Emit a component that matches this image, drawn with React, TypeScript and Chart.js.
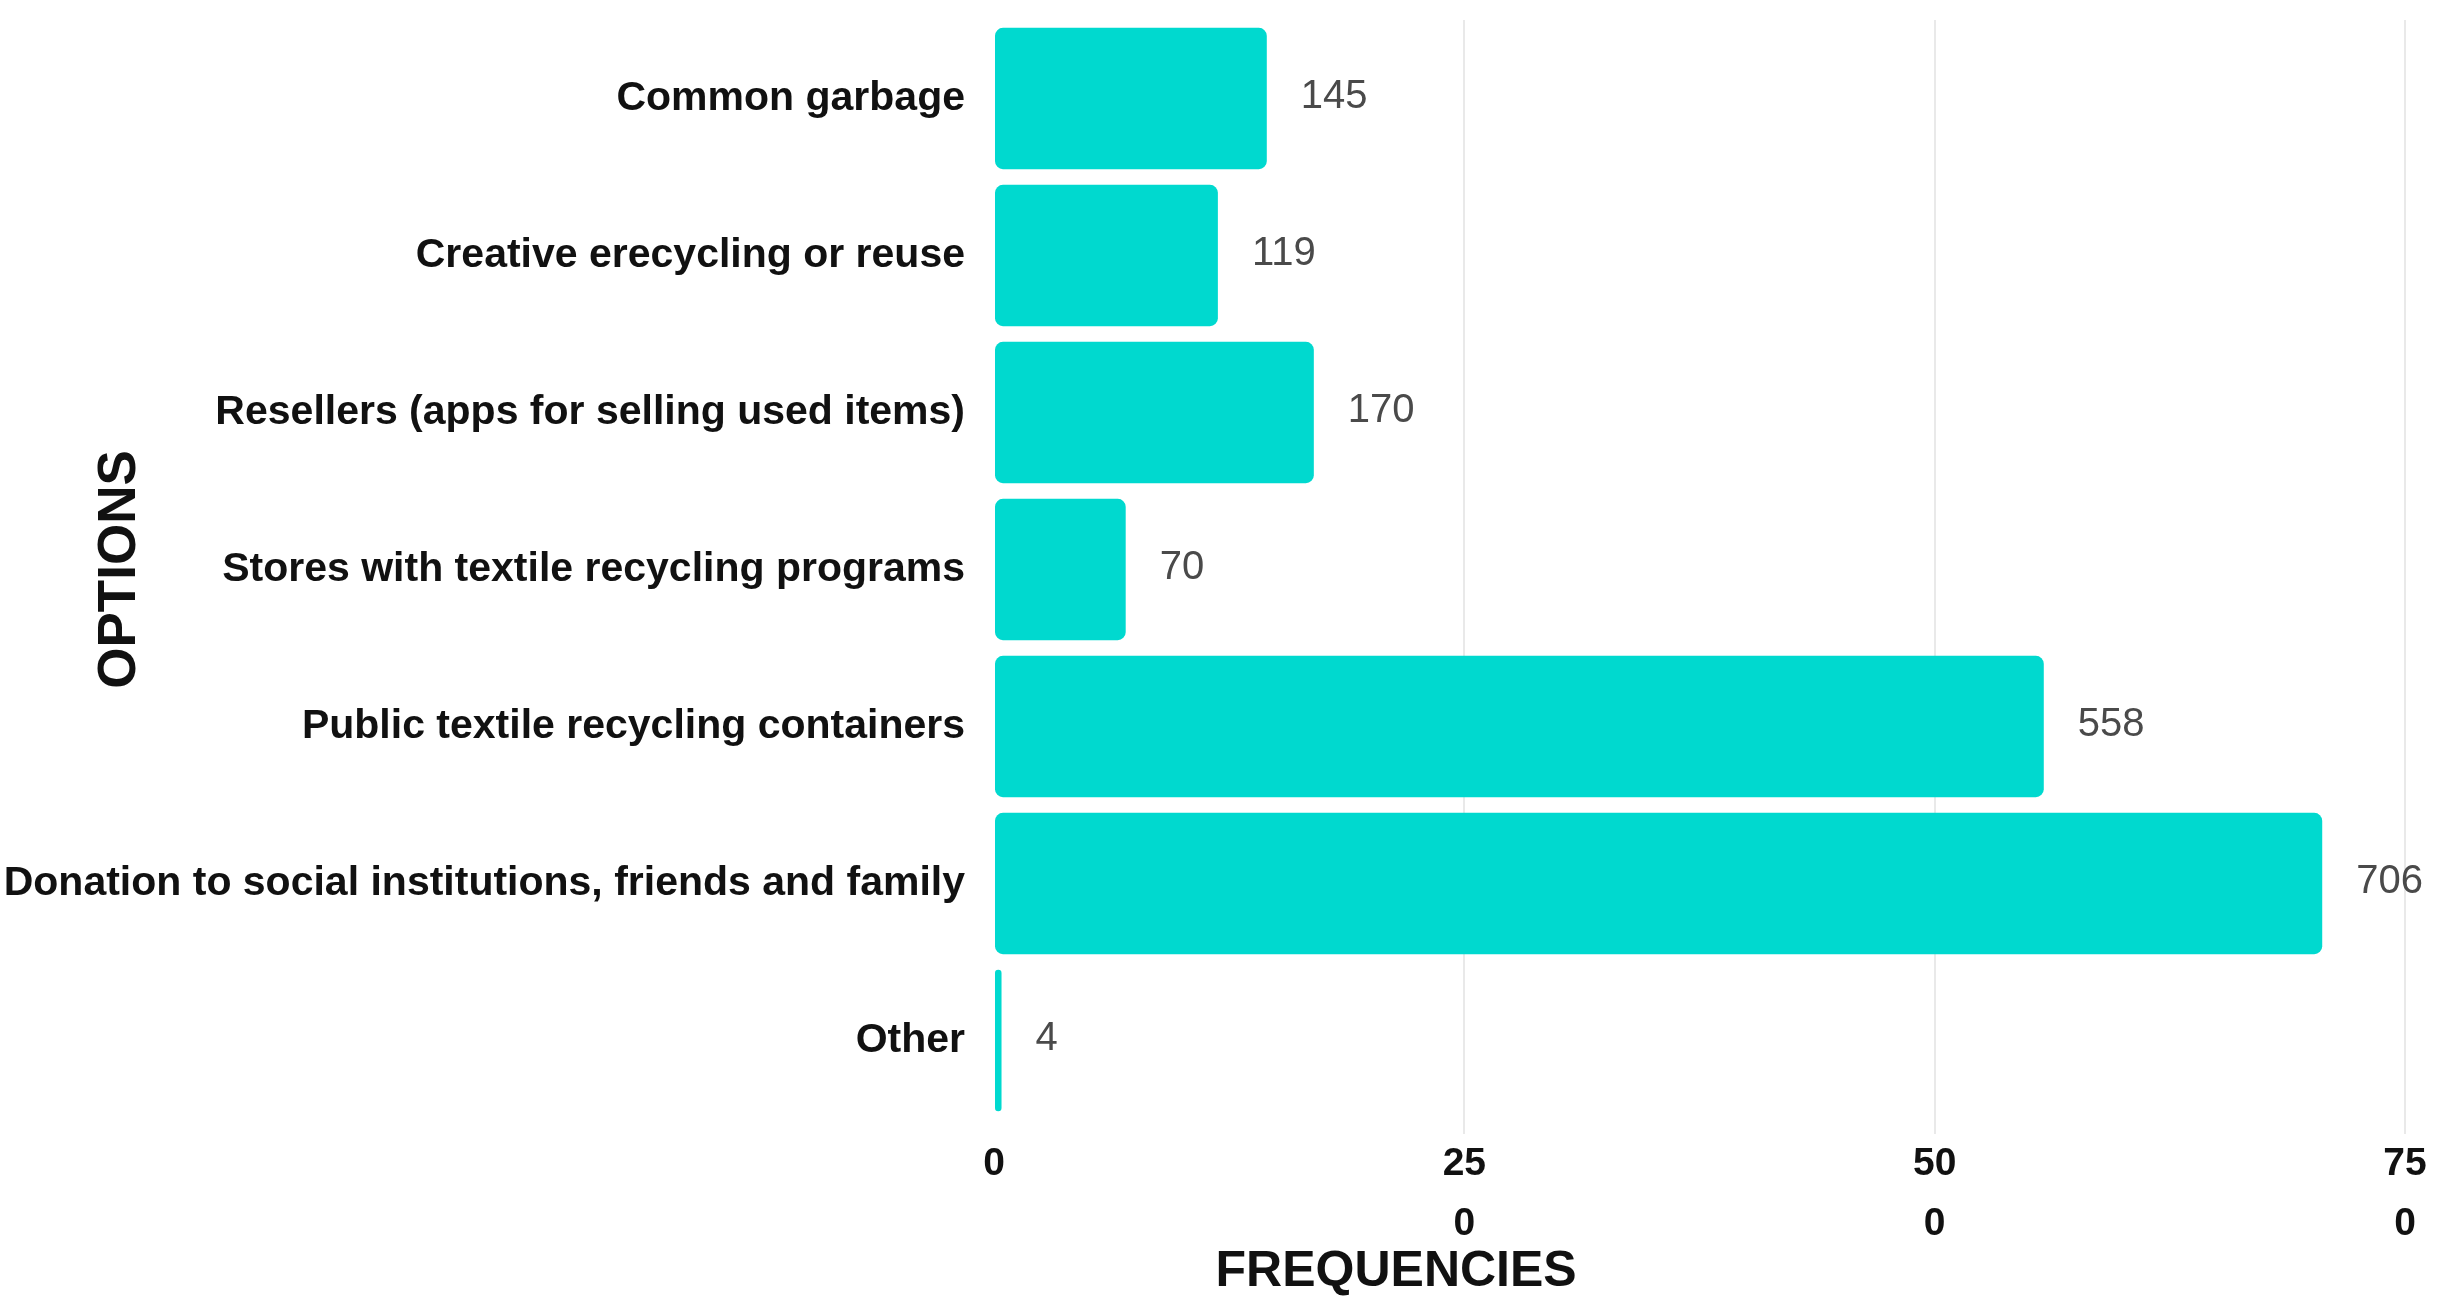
import React, { useEffect, useRef } from 'react';
import { Chart, registerables } from 'chart.js';

Chart.register(...registerables);

const categories = [
  'Common garbage',
  'Creative erecycling or reuse',
  'Resellers (apps for selling used items)',
  'Stores with textile recycling programs',
  'Public textile recycling containers',
  'Donation to social institutions, friends and family',
  'Other',
];
const frequencies = [145, 119, 170, 70, 558, 706, 4];
const xTickValues = [0, 250, 500, 750];
const xTickLabels: (string | string[])[] = ['0', ['25', '0'], ['50', '0'], ['75', '0']];
const xTitle = 'FREQUENCIES';
const yTitle = 'OPTIONS';

const FONT = "'Liberation Sans', Arial, sans-serif";
const BAR_COLOR = '#00D9CF';

const valueLabels = {
  id: 'valueLabels',
  afterDatasetsDraw(chart: any) {
    const { ctx } = chart;
    const meta = chart.getDatasetMeta(0);
    ctx.save();
    ctx.font = `40px ${FONT}`;
    ctx.fillStyle = '#4a4a4a';
    ctx.textAlign = 'left';
    ctx.textBaseline = 'middle';
    meta.data.forEach((bar: any, i: number) => {
      ctx.fillText(String(frequencies[i]), bar.x + 34, bar.y - 2);
    });
    ctx.restore();
  },
};

const xAxisTitle = {
  id: 'xAxisTitle',
  afterDraw(chart: any) {
    const { ctx, chartArea } = chart;
    ctx.save();
    ctx.font = `bold 50px ${FONT}`;
    ctx.fillStyle = '#111';
    ctx.textAlign = 'center';
    ctx.textBaseline = 'middle';
    const x = chartArea.left + (chartArea.right - chartArea.left) * 0.285;
    ctx.fillText(xTitle, x, chartArea.bottom + 153);
    ctx.restore();
  },
};

export default function App() {
  const ref = useRef<HTMLCanvasElement | null>(null);

  useEffect(() => {
    if (!ref.current) return;
    const chart = new Chart(ref.current, {
      type: 'bar',
      data: {
        labels: categories,
        datasets: [
          {
            data: frequencies,
            backgroundColor: BAR_COLOR,
            borderRadius: 8,
            borderSkipped: false,
            barPercentage: 0.9,
            categoryPercentage: 1.0,
          },
        ],
      },
      options: {
        indexAxis: 'y',
        animation: false,
        responsive: true,
        maintainAspectRatio: false,
        layout: { padding: { top: 20, right: 47, bottom: 0, left: 0 } },
        plugins: {
          legend: { display: false },
          tooltip: { enabled: false },
        },
        scales: {
          x: {
            min: 0,
            max: 750,
            afterBuildTicks: (scale: any) => {
              scale.ticks = xTickValues.map((v) => ({ value: v }));
            },
            afterFit: (scale: any) => {
              scale.height = 196;
            },
            grid: {
              color: (c: any) => (c.tick && c.tick.value === 0 ? 'rgba(0,0,0,0)' : '#e9e9e9'),
              lineWidth: 2,
              drawTicks: true,
              tickLength: 15,
            },
            border: { display: false },
            ticks: {
              padding: 0,
              maxRotation: 0,
              autoSkip: false,
              color: '#111',
              font: { family: FONT, size: 39, weight: 'bold', lineHeight: 1.55 },
              callback: (_v: any, i: number) => xTickLabels[i],
            },
            title: { display: false },
          },
          y: {
            afterFit: (scale: any) => {
              scale.width = 994;
              scale.paddingTop = 0;
              scale.paddingBottom = 0;
            },
            grid: { display: false, drawTicks: false },
            border: { display: false },
            ticks: {
              padding: 29,
              color: '#111',
              font: { family: FONT, size: 41, weight: 'bold' },
              autoSkip: false,
            },
            title: {
              display: true,
              text: yTitle,
              color: '#111',
              font: { family: FONT, size: 53, weight: 'bold', lineHeight: 1.2 },
              padding: { top: 89, bottom: 0 },
            },
          },
        },
      },
      plugins: [valueLabels, xAxisTitle],
    });
    return () => chart.destroy();
  }, []);

  return (
    <div
      style={{
        position: 'fixed',
        left: 0,
        top: 0,
        width: 2452,
        height: 1315,
        background: '#ffffff',
      }}
    >
      <canvas ref={ref} />
    </div>
  );
}
